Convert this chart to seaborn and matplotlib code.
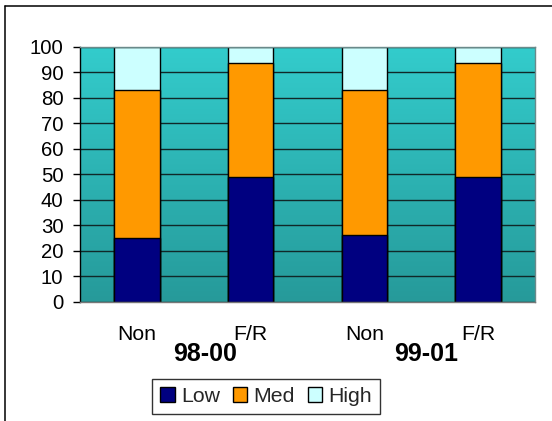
import numpy as np
import pandas as pd
import matplotlib
matplotlib.use("Agg")
import matplotlib.pyplot as plt
import seaborn as sns
from matplotlib.lines import Line2D
from matplotlib.patches import Patch

categories = ["Non", "F/R", "Non", "F/R"]
groups = ["98-00", "99-01"]
low = [25, 49, 26, 49]
med = [58, 44.5, 57, 44.5]
high = [17, 6.5, 17, 6.5]
yticks = [0, 10, 20, 30, 40, 50, 60, 70, 80, 90, 100]

sns.set_theme(style="white")
plt.rcParams["font.family"] = ["Liberation Sans", "DejaVu Sans"]

fig = plt.figure(figsize=(5.52, 4.21), dpi=100)
ax = fig.add_axes([80 / 552, 1 - 301.7 / 421, (535 - 80) / 552, (301.7 - 46.7) / 421])

pos = list(range(len(categories)))
c_low = np.array(low)
c_med = c_low + np.array(med)
c_high = c_med + np.array(high)
df = pd.DataFrame({"pos": [str(p) for p in pos], "low": c_low, "med": c_med, "high": c_high})

# gradient background
grad = np.linspace(0, 1, 256).reshape(-1, 1)
top = np.array([0x33, 0xCC, 0xCC]) / 255
bot = np.array([0x26, 0x9A, 0x9A]) / 255
img = top[None, None, :] * (1 - grad[..., None]) + bot[None, None, :] * grad[..., None]
ax.imshow(img, extent=[-0.5, 3.5, 0, 100], aspect="auto", zorder=0, origin="upper")

for y in yticks:
    ax.axhline(y, color="#102828", lw=1.0, zorder=1)

for col, color in [("high", "#CCFFFF"), ("med", "#FF9900"), ("low", "#000080")]:
    sns.barplot(data=df, x="pos", y=col, color=color, width=0.40, edgecolor="black",
                linewidth=1.0, saturation=1, ax=ax, zorder=2)

ax.set_xlim(-0.5, 3.5)
ax.set_ylim(0, 100)
ax.set_yticks(yticks)
ax.set_yticklabels([str(v) for v in yticks], fontsize=14.7, color="black")
ax.set_xticks(pos)
ax.set_xticklabels(categories, fontsize=15.3, color="black")
ax.set_xticks([-0.5, 0.5, 1.5, 2.5, 3.5], minor=True)
ax.tick_params(axis="x", which="major", length=0, pad=16.5)
ax.tick_params(axis="x", which="minor", length=5, width=1, color="black", direction="out")
ax.tick_params(axis="y", which="major", length=5, width=1, color="black", direction="out", left=True, pad=7)
ax.set_xlabel("")
ax.set_ylabel("")
for s in ["top", "right"]:
    ax.spines[s].set_color("#6a8a8a")
    ax.spines[s].set_linewidth(1)
ax.spines["left"].set_color("black")
ax.spines["bottom"].set_color("#777777")
ax.spines["left"].set_linewidth(1)
ax.spines["bottom"].set_linewidth(1)

trans = ax.get_xaxis_transform()
group_x = [0.60, 2.54]
for gx, g in zip(group_x, groups):
    ax.text(gx, -0.207, g, transform=trans, ha="center", va="center",
            fontsize=18, fontweight="bold", color="black")

handles = [Patch(facecolor="#000080", edgecolor="black", label="Low"),
           Patch(facecolor="#FF9900", edgecolor="#000000", label="Med"),
           Patch(facecolor="#CCFFFF", edgecolor="black", label="High")]
leg = fig.legend(handles=handles, loc="center", bbox_to_anchor=(266 / 552, 1 - 396.5 / 421),
                 ncol=3, frameon=True, fancybox=False, fontsize=15.3, handlelength=0.7,
                 handleheight=0.7, handletextpad=0.28, columnspacing=0.6, borderpad=0.38,
                 borderaxespad=0)
leg.get_frame().set_edgecolor("black")
leg.get_frame().set_linewidth(1)

# outer chart border (left and top visible)
fig.add_artist(Line2D([5.5 / 552, 5.5 / 552], [0, 1 - 6 / 421], transform=fig.transFigure, color="black", lw=1.1))
fig.add_artist(Line2D([5.5 / 552, 1], [1 - 6 / 421, 1 - 6 / 421], transform=fig.transFigure, color="black", lw=1.1))

fig.savefig("out.png", dpi=100)
